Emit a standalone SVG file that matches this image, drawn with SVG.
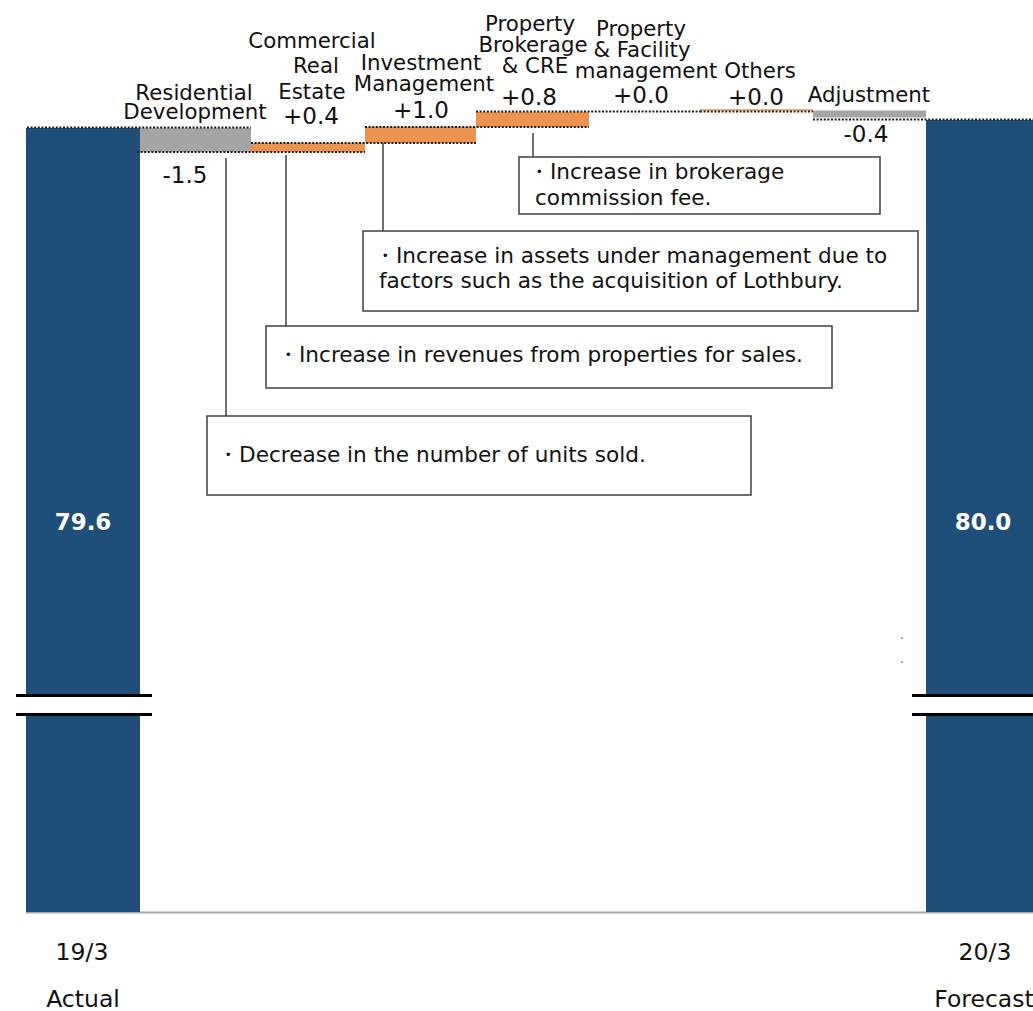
<svg xmlns="http://www.w3.org/2000/svg" width="1033" height="1011" viewBox="0 0 1033 1011">
<style>
.lbl{font-family:"DejaVu Sans",Verdana,sans-serif;font-size:21.3px;fill:#111;text-anchor:middle}
.val{font-family:"DejaVu Sans",Verdana,sans-serif;font-size:23px;fill:#111;text-anchor:middle}
.big{font-family:"DejaVu Sans",Verdana,sans-serif;font-size:23px;font-weight:bold;fill:#fff;text-anchor:middle}
.ax{font-family:"DejaVu Sans",Verdana,sans-serif;font-size:23.5px;fill:#111;text-anchor:middle}
.note{font-family:"DejaVu Sans",Verdana,sans-serif;font-size:21.6px;fill:#111}
.dot{stroke:#1a1a1a;stroke-width:2.2;stroke-dasharray:2 1.6;fill:none}
.box{fill:#fff;stroke:#404040;stroke-width:1.5}
.conn{stroke:#404040;stroke-width:1.5;fill:none}
.blue{fill:#1F4E79}
.gray{fill:#A5A5A5}
.orange{fill:#EE924F}
</style>
<rect width="1033" height="1011" fill="#fff"/>

<!-- axis -->
<line x1="26" y1="912.5" x2="1033" y2="912.5" stroke="#A6A6A6" stroke-width="2"/>

<g id="bar-1903">
<rect class="blue" x="26" y="128" width="114" height="784"/>
<text class="big" x="83" y="530">79.6</text>
</g>
<g id="bar-2003">
<rect class="blue" x="926" y="120" width="107" height="792"/>
<text class="big" x="983" y="530">80.0</text>
</g>

<!-- breaks -->
<g id="break-left">
<rect x="16" y="697" width="136" height="16" fill="#fff"/>
<line x1="16" y1="695.5" x2="152" y2="695.5" stroke="#000" stroke-width="3"/>
<line x1="16" y1="714.5" x2="152" y2="714.5" stroke="#000" stroke-width="3"/>
</g>
<g id="break-right">
<rect x="912" y="697" width="121" height="16" fill="#fff"/>
<line x1="912" y1="695.5" x2="1033" y2="695.5" stroke="#000" stroke-width="3"/>
<line x1="912" y1="714.5" x2="1033" y2="714.5" stroke="#000" stroke-width="3"/>
</g>
<rect x="901" y="637" width="2" height="2" fill="#aaa"/>
<rect x="901" y="661" width="2" height="2" fill="#aaa"/>

<g id="residential">
<rect class="gray" x="140" y="128" width="111" height="24"/>
<text class="lbl" x="194" y="100">Residential</text>
<text class="lbl" x="195" y="119">Development</text>
<text class="val" x="185" y="183">-1.5</text>
</g>
<g id="commercial">
<rect class="orange" x="251" y="143" width="114" height="9"/>
<text class="lbl" x="312" y="48">Commercial</text>
<text class="lbl" x="316" y="73">Real</text>
<text class="lbl" x="312" y="99">Estate</text>
<text class="val" x="311" y="124">+0.4</text>
</g>
<g id="investment">
<rect class="orange" x="365" y="127" width="111" height="16"/>
<text class="lbl" x="421" y="70">Investment</text>
<text class="lbl" x="424" y="91">Management</text>
<text class="val" x="421" y="118">+1.0</text>
</g>
<g id="brokerage">
<rect class="orange" x="476" y="112" width="113" height="15"/>
<text class="lbl" x="530" y="31">Property</text>
<text class="lbl" x="533" y="52">Brokerage</text>
<text class="lbl" x="535" y="73">&amp; CRE</text>
<text class="val" x="529" y="105">+0.8</text>
</g>
<g id="facility">
<text class="lbl" x="641" y="36">Property</text>
<text class="lbl" x="642" y="57">&amp; Facility</text>
<text class="lbl" x="646" y="78">management</text>
<text class="val" x="641" y="103">+0.0</text>
</g>
<g id="others">
<line x1="700" y1="110" x2="813" y2="110" stroke="#EE924F" stroke-width="1.5"/>
<text class="lbl" x="760" y="78">Others</text>
<text class="val" x="756" y="105">+0.0</text>
</g>
<g id="adjustment">
<rect class="gray" x="813" y="110.5" width="113" height="7"/>
<text class="lbl" x="869" y="102">Adjustment</text>
<text class="val" x="866" y="142">-0.4</text>
</g>

<!-- dotted level lines -->
<g id="levels">
<line class="dot" x1="27" y1="127.5" x2="251" y2="127.5"/>
<line class="dot" x1="137" y1="152" x2="365" y2="152"/>
<line class="dot" x1="251" y1="143" x2="476" y2="143"/>
<line class="dot" x1="365" y1="127" x2="589" y2="127"/>
<line class="dot" x1="476" y1="111.5" x2="700" y2="111.5"/>
<line class="dot" x1="700" y1="111.5" x2="813" y2="111.5"/>
<line class="dot" x1="813" y1="119.5" x2="1033" y2="119.5"/>
</g>

<!-- connectors -->
<g id="connectors">
<line class="conn" x1="533" y1="133" x2="533" y2="157"/>
<line class="conn" x1="383" y1="143" x2="383" y2="231"/>
<line class="conn" x1="286" y1="155" x2="286" y2="326"/>
<line class="conn" x1="226" y1="158" x2="226" y2="416"/>
</g>

<g id="note-brokerage">
<rect class="box" x="519" y="157" width="361" height="57"/>
<text class="note" x="528" y="179">・Increase in brokerage</text>
<text class="note" x="535" y="205">commission fee.</text>
</g>
<g id="note-investment">
<rect class="box" x="363" y="231" width="555" height="80"/>
<text class="note" x="374" y="263">・Increase in assets under management due to</text>
<text class="note" x="379" y="288">factors such as the acquisition of Lothbury.</text>
</g>
<g id="note-commercial">
<rect class="box" x="266" y="326" width="566" height="62"/>
<text class="note" x="277" y="362">・Increase in revenues from properties for sales.</text>
</g>
<g id="note-residential">
<rect class="box" x="207" y="416" width="544" height="79"/>
<text class="note" x="217" y="462">・Decrease in the number of units sold.</text>
</g>

<g id="xlabels">
<text class="ax" x="82" y="960">19/3</text>
<text class="ax" x="83" y="1007">Actual</text>
<text class="ax" x="985" y="960">20/3</text>
<text class="ax" x="984" y="1007">Forecast</text>
</g>
</svg>
